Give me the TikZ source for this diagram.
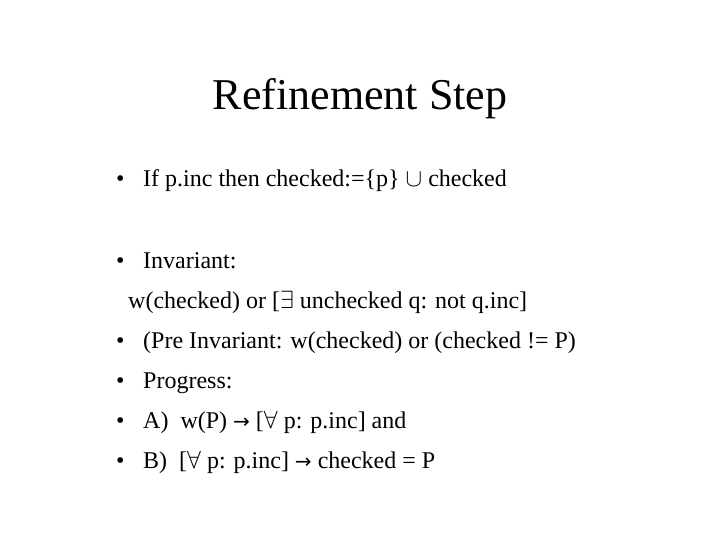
\documentclass[tikz,border=0pt]{standalone}
\usepackage{fontspec}
\setmainfont{Liberation Serif}
\newfontfamily\arrfont{DejaVu Sans}
\begin{document}
\begin{tikzpicture}[x=1pt,y=-1pt,
  body/.style={anchor=base west,inner sep=0pt,font=\fontsize{24}{28}\selectfont},
  bul/.style={anchor=base west,inner sep=0pt,font=\fontsize{24}{28}\selectfont}]
\useasboundingbox (0,0) rectangle (720,540);
\node[anchor=base,inner sep=0pt,font=\fontsize{44}{50}\selectfont] (title) at (360,110) {Refinement Step};
\node[bul] (b1) at (116,187) {•};
\node[body] (t1) at (143,187) {If p.inc then checked:=\{p\} $\cup$ checked};
\node[bul] (b2) at (116,268) {•};
\node[body] (t2) at (143,268) {Invariant:};
\node[body] (t2b) at (128,308) {w(checked) or [$\exists$ unchecked q: not q.inc]};
\node[bul] (b3) at (116,348) {•};
\node[body] (t3) at (143,348) {(Pre Invariant: w(checked) or (checked != P)};
\node[bul] (b4) at (116,388) {•};
\node[body] (t4) at (143,388) {Progress:};
\node[bul] (b5) at (116,428) {•};
\node[body] (t5) at (143,428) {A)\ \ w(P) {\arrfont\fontsize{20}{24}\selectfont →} [$\forall$ p: p.inc] and};
\node[bul] (b6) at (116,468) {•};
\node[body] (t6) at (143,468) {B)\ \ [$\forall$ p: p.inc] {\arrfont\fontsize{20}{24}\selectfont →} checked = P};
\end{tikzpicture}
\end{document}
